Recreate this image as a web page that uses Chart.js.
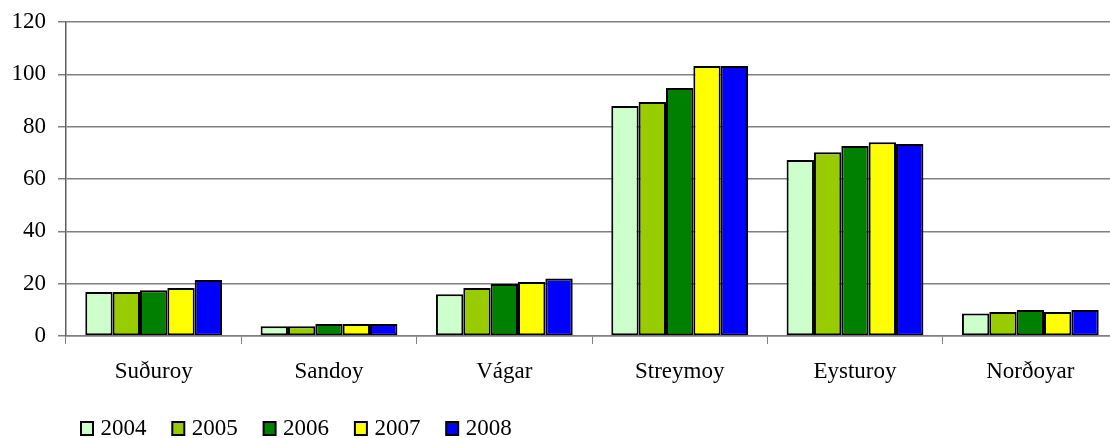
<!DOCTYPE html>
<html>
<head>
<meta charset="utf-8">
<title>Oyggjar 2004-2008</title>
<script src="https://cdn.jsdelivr.net/npm/chart.js@4/dist/chart.umd.min.js"></script>
<style>
  body { margin: 0; overflow: hidden; background: #fff; }
</style>
</head>
<body>
<canvas id="oyggjarChart" width="1120" height="438"></canvas>
<script>
const oyggjar = ['Suðuroy', 'Sandoy', 'Vágar', 'Streymoy', 'Eysturoy', 'Norðoyar'];
const ar = ['2004', '2005', '2006', '2007', '2008'];
const v2004 = [16.8, 3.7, 16.0, 87.9, 67.3, 8.6];
const v2005 = [16.8, 3.7, 18.3, 89.4, 70.2, 9.2];
const v2006 = [17.5, 4.6, 19.9, 94.8, 72.6, 9.9];
const v2007 = [18.3, 4.6, 20.6, 103.2, 74.0, 9.2];
const v2008 = [21.4, 4.6, 22.0, 103.2, 73.4, 9.9];
const yTicks = [0, 20, 40, 60, 80, 100, 120];
const litir = ['#CCFFCC', '#99CC00', '#008000', '#FFFF00', '#0000FF'];

const serif = '"Liberation Serif", "DejaVu Serif", serif';

// legend drawn by hand so it can sit at the left like the original
const botnLegend = {
    id: 'botnLegend',
    afterDraw(chart) {
        const ctx = chart.ctx;
        ctx.save();
        ctx.font = '23px ' + serif;
        ctx.textBaseline = 'alphabetic';
        chart.data.datasets.forEach(function (ds, i) {
            const x = 81 + i * 91.3;
            const y = 422;
            ctx.fillStyle = ds.backgroundColor;
            ctx.fillRect(x, y, 12, 13);
            ctx.strokeStyle = '#000';
            ctx.lineWidth = 2;
            ctx.strokeRect(x, y, 12, 13);
            ctx.fillStyle = '#000';
            ctx.fillText(ds.label, x + 19.5, 435);
        });
        ctx.restore();
    }
};

document.addEventListener('DOMContentLoaded', function () {
    const ctx = document.getElementById('oyggjarChart').getContext('2d');
    const rows = [v2004, v2005, v2006, v2007, v2008];
    new Chart(ctx, {
        type: 'bar',
        data: {
            labels: oyggjar,
            datasets: ar.map(function (a, i) {
                return {
                    label: a,
                    data: rows[i],
                    backgroundColor: litir[i],
                    borderColor: '#000',
                    borderWidth: 2,
                    borderSkipped: false,
                    categoryPercentage: 0.78,
                    barPercentage: 1.0
                };
            })
        },
        options: {
            responsive: false,
            animation: false,
            layout: { padding: { top: 22, left: 0, right: 2, bottom: 0 } },
            plugins: {
                legend: { display: false },
                tooltip: { enabled: false }
            },
            scales: {
                x: {
                    grid: {
                        offset: true,
                        drawOnChartArea: false,
                        color: '#808080',
                        tickLength: 8
                    },
                    border: { color: '#808080', width: 1.5 },
                    ticks: {
                        color: '#000',
                        padding: 14,
                        font: { family: serif, size: 23 }
                    },
                    afterFit: function (scale) { scale.height = 102; }
                },
                y: {
                    min: 0,
                    max: 120,
                    afterBuildTicks: function (scale) {
                        scale.ticks = yTicks.map(function (v) { return { value: v }; });
                    },
                    grid: { color: '#808080', lineWidth: 1.5, tickLength: 8 },
                    border: { color: '#606060', width: 1.5 },
                    ticks: {
                        color: '#000',
                        padding: 12,
                        font: { family: serif, size: 23, lineHeight: 0.8 }
                    },
                    afterFit: function (scale) { scale.width = 66; }
                }
            }
        },
        plugins: [botnLegend]
    });
});
</script>
</body>
</html>
